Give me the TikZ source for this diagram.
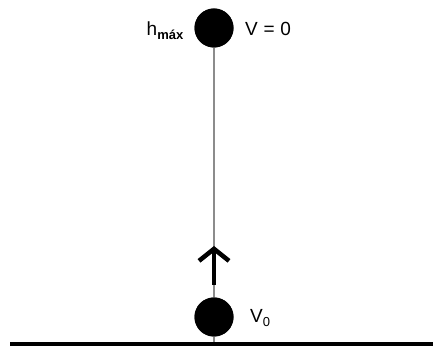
\documentclass[tikz,border=0pt]{standalone}
\usepackage{fontspec}
\setmainfont{Liberation Sans}
\usetikzlibrary{arrows.meta}
\begin{document}
\begin{tikzpicture}[x=1pt,y=1pt,
  ball/.style={circle,fill=black,minimum size=39pt,inner sep=0pt},
  lbl/.style={inner sep=0pt,font=\fontsize{19}{21}\selectfont}]
\useasboundingbox (0,0) rectangle (433,347);
\coordinate (gl) at (10,2.5);
\coordinate (gr) at (433,2.5);
\coordinate (gmid) at (214,2.5);
\node[ball] (top) at (214,319) {};
\node[ball] (bot) at (214,30) {};
\draw[line width=2pt,color=black!45] (top.center) -- (gmid);
\node[ball] at (top.center) {};
\node[ball] at (bot.center) {};
\draw[line width=4pt] (gl) -- (gr);
\coordinate (a0) at (214,62);
\coordinate (a1) at (214,101);
\draw[line width=4.5pt,-{Straight Barb[length=12pt,width=30pt]}] (a0) -- (a1);
\node[lbl,anchor=base east] (h) at (184,311) {h\textsubscript{\bfseries\fontsize{13}{14}\selectfont máx}};
\node[lbl,anchor=base west] (v0) at (245,311) {V\hspace{0.3em}=\hspace{0.3em}0};
\node[lbl,anchor=base west] (vb) at (250,24) {V\textsubscript{\fontsize{13}{14}\selectfont 0}};
\end{tikzpicture}
\end{document}
